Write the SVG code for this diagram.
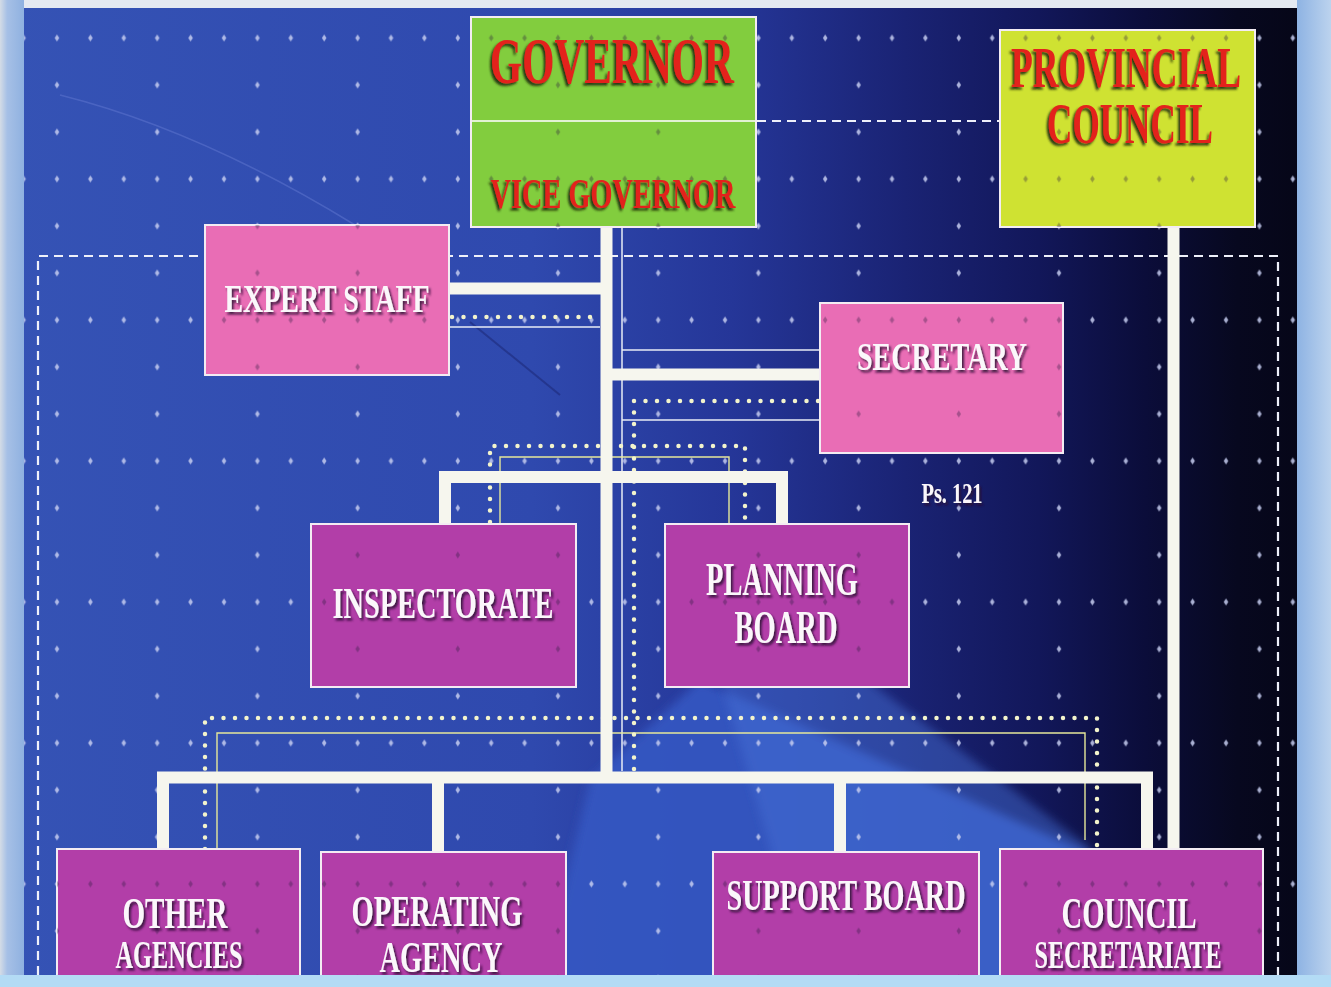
<svg xmlns="http://www.w3.org/2000/svg" xmlns:xlink="http://www.w3.org/1999/xlink" width="1331" height="987" viewBox="0 0 1331 987">
  <style>
    .box { stroke: #f3ecf3; stroke-width: 2; }
    .gov { fill: #82cd3e; }
    .pc { fill: #cfe232; }
    .pink { fill: #e96db5; }
    .mag { fill: #b23ea8; }
    .lbl { font-family: "Liberation Serif", "Times New Roman", serif; font-weight: bold; fill: #fbf7fb; text-anchor: middle; filter: url(#emboss); }
    .red { fill: #e3221b; filter: url(#redShadow); }
    .bar { fill: none; stroke: #f6f6ee; stroke-width: 12; stroke-linejoin: miter; }
    .thin { fill: none; stroke: #e9ecf6; stroke-width: 1.5; }
    .ythin { fill: none; stroke: #e6e89a; stroke-width: 1.4; }
    .dots { fill: none; stroke: #f3f4cc; stroke-width: 4.5; stroke-linecap: round; stroke-dasharray: 0 11.5; }
    .dash { fill: none; stroke: #eef0fa; stroke-width: 2.2; stroke-dasharray: 9 6; }
  </style>
  <defs>
    <linearGradient id="bgGrad" gradientUnits="userSpaceOnUse" x1="0" y1="0" x2="1331" y2="0">
      <stop offset="0" stop-color="#3553b5"/>
      <stop offset="0.40" stop-color="#2f49ae"/>
      <stop offset="0.55" stop-color="#253698"/>
      <stop offset="0.68" stop-color="#1a2374"/>
      <stop offset="0.78" stop-color="#12175a"/>
      <stop offset="0.86" stop-color="#0b0d3a"/>
      <stop offset="0.93" stop-color="#07081f"/>
      <stop offset="1" stop-color="#050514"/>
    </linearGradient>
    <linearGradient id="leftFrame" x1="0" y1="0" x2="1" y2="0">
      <stop offset="0" stop-color="#d4dce6"/>
      <stop offset="0.3" stop-color="#a6c0e6"/>
      <stop offset="1" stop-color="#8fb1e0"/>
    </linearGradient>
    <linearGradient id="rightFrame" x1="0" y1="0" x2="1" y2="0">
      <stop offset="0" stop-color="#8eb3e3"/>
      <stop offset="1" stop-color="#bcd3ee"/>
    </linearGradient>
    <filter id="soft" x="-10%" y="-10%" width="120%" height="120%">
      <feGaussianBlur stdDeviation="5"/>
    </filter>
    <filter id="emboss" x="-5%" y="-20%" width="110%" height="150%">
      <feDropShadow dx="2" dy="2.5" stdDeviation="0.8" flood-color="#2a0a30" flood-opacity="0.85"/>
    </filter>
    <filter id="redShadow" x="-5%" y="-20%" width="110%" height="150%">
      <feDropShadow dx="-2" dy="2.5" stdDeviation="0.8" flood-color="#1d2a0c" flood-opacity="0.9"/>
    </filter>
    <path id="dot" d="M0,-3.5 L2.3,0 L0,3.5 L-2.3,0 Z"/>
    <!-- alignment grid: dense rows every 141px, sparse rows in between -->
    <pattern id="grid" patternUnits="userSpaceOnUse" x="40.3" y="14.5" width="100.2" height="141">
      <g fill="#c6cdf0" fill-opacity="0.85">
        <use href="#dot" x="16.7" y="23.5"/>
        <use href="#dot" x="50.1" y="23.5"/>
        <use href="#dot" x="83.5" y="23.5"/>
        <use href="#dot" x="16.7" y="70.5"/>
        <use href="#dot" x="16.7" y="117.5"/>
      </g>
    </pattern>
    <pattern id="gridDark" patternUnits="userSpaceOnUse" x="40.3" y="14.5" width="100.2" height="141">
      <g fill="#2a1a40" fill-opacity="0.35">
        <use href="#dot" x="16.7" y="23.5"/>
        <use href="#dot" x="50.1" y="23.5"/>
        <use href="#dot" x="83.5" y="23.5"/>
        <use href="#dot" x="16.7" y="70.5"/>
        <use href="#dot" x="16.7" y="117.5"/>
      </g>
    </pattern>
  </defs>

  <!-- slide background -->
  <g id="background">
    <rect x="0" y="0" width="1331" height="987" fill="url(#bgGrad)"/>
    <polygon points="540,987 590,780 700,680 1100,858 1100,987" fill="#3456c2" fill-opacity="0.9" filter="url(#soft)"/>
    <polygon points="715,660 840,660 1089,847 1089,987 800,987 770,847" fill="#4470d8" fill-opacity="0.45" filter="url(#soft)"/>
    <path d="M60,95 Q200,130 355,225" fill="none" stroke="#5a72cc" stroke-opacity="0.6" stroke-width="1.5"/>
    <path d="M470,322 L560,395" fill="none" stroke="#1a2470" stroke-opacity="0.5" stroke-width="2"/>
    <rect x="24" y="8" width="1273" height="967" fill="url(#grid)"/>
  </g>

  <g id="connectors">
    <!-- selection outlines -->
    <path class="dash" d="M38,975 V256 H1278 V975"/>
    <path class="dash" d="M757,121 H1000" stroke-width="2.5" stroke-dasharray="10 7"/>
    <path class="thin" d="M622,227 V771"/>
    <path class="thin" d="M622,350 H820"/>
    <path class="thin" d="M622,420 H820"/>
    <path class="thin" d="M449,327 H600"/>
    <path class="ythin" d="M500,560 V457 H729 V524"/>
    <path class="ythin" d="M217,850 V733 H1085 V840"/>
    <path class="dots" d="M452,317 H598"/>
    <path class="dots" d="M818,401 H634 V775"/>
    <path class="dots" d="M490,522 V446 H745 V520"/>
    <path class="dots" d="M205,849 V718 H1097 V849"/>
    <!-- reporting lines -->
    <path class="bar" d="M606.5,226 V777" stroke-width="11"/>
    <path class="bar" d="M449,288.5 H606" stroke-width="13"/>
    <path class="bar" d="M606,374.5 H820" stroke-width="13"/>
    <path class="bar" d="M445,524 V477 H782 V524"/>
    <path class="bar" d="M163,849 V777.5 H1147 V849" stroke-width="13"/>
    <path class="bar" d="M438,777 V852" stroke-width="11"/>
    <path class="bar" d="M840,777 V852" stroke-width="11"/>
    <path class="bar" d="M1173.5,227 V849" stroke-width="11"/>
  </g>

  <g id="governor">
    <rect class="box gov" x="471" y="17" width="285" height="210"/>
    <rect x="471" y="17" width="285" height="210" fill="url(#gridDark)"/>
    <line x1="472" y1="121" x2="755" y2="121" stroke="#e2f2d2" stroke-width="2"/>
    <text class="lbl red" x="612" y="83" font-size="66" textLength="244" lengthAdjust="spacingAndGlyphs">GOVERNOR</text>
    <text class="lbl red" x="613" y="208" font-size="42" textLength="245" lengthAdjust="spacingAndGlyphs">VICE GOVERNOR</text>
  </g>

  <g id="provincial-council">
    <rect class="box pc" x="1000" y="30" width="255" height="197"/>
    <rect x="1000" y="30" width="255" height="197" fill="url(#gridDark)"/>
    <text class="lbl red" x="1126" y="87" font-size="56" textLength="230" lengthAdjust="spacingAndGlyphs">PROVINCIAL</text>
    <text class="lbl red" x="1130" y="143" font-size="56" textLength="166" lengthAdjust="spacingAndGlyphs">COUNCIL</text>
  </g>

  <g id="expert-staff">
    <rect class="box pink" x="205" y="225" width="244" height="150"/>
    <rect x="205" y="225" width="244" height="150" fill="url(#gridDark)"/>
    <text class="lbl" x="327" y="312" font-size="41" textLength="205" lengthAdjust="spacingAndGlyphs">EXPERT STAFF</text>
  </g>

  <g id="secretary">
    <rect class="box pink" x="820" y="303" width="243" height="150"/>
    <rect x="820" y="303" width="243" height="150" fill="url(#gridDark)"/>
    <text class="lbl" x="942" y="370" font-size="41" textLength="170" lengthAdjust="spacingAndGlyphs">SECRETARY</text>
  </g>

  <g id="note">
    <text class="lbl" x="952" y="503" font-size="30" textLength="61" lengthAdjust="spacingAndGlyphs">Ps. 121</text>
  </g>

  <g id="inspectorate">
    <rect class="box mag" x="311" y="524" width="265" height="163"/>
    <rect x="311" y="524" width="265" height="163" fill="url(#gridDark)"/>
    <text class="lbl" x="443" y="618" font-size="45" textLength="221" lengthAdjust="spacingAndGlyphs">INSPECTORATE</text>
  </g>

  <g id="planning-board">
    <rect class="box mag" x="665" y="524" width="244" height="163"/>
    <rect x="665" y="524" width="244" height="163" fill="url(#gridDark)"/>
    <text class="lbl" x="782" y="595" font-size="46" textLength="152" lengthAdjust="spacingAndGlyphs">PLANNING</text>
    <text class="lbl" x="786" y="643" font-size="46" textLength="103" lengthAdjust="spacingAndGlyphs">BOARD</text>
  </g>

  <g id="other-agencies">
    <rect class="box mag" x="57" y="849" width="243" height="140"/>
    <rect x="57" y="849" width="243" height="140" fill="url(#gridDark)"/>
    <text class="lbl" x="175" y="928" font-size="44" textLength="105" lengthAdjust="spacingAndGlyphs">OTHER</text>
    <text class="lbl" x="179" y="968" font-size="40" textLength="127" lengthAdjust="spacingAndGlyphs">AGENCIES</text>
  </g>

  <g id="operating-agency">
    <rect class="box mag" x="321" y="852" width="245" height="140"/>
    <rect x="321" y="852" width="245" height="140" fill="url(#gridDark)"/>
    <text class="lbl" x="437" y="926" font-size="44" textLength="171" lengthAdjust="spacingAndGlyphs">OPERATING</text>
    <text class="lbl" x="441" y="972" font-size="44" textLength="123" lengthAdjust="spacingAndGlyphs">AGENCY</text>
  </g>

  <g id="support-board">
    <rect class="box mag" x="713" y="852" width="266" height="140"/>
    <rect x="713" y="852" width="266" height="140" fill="url(#gridDark)"/>
    <text class="lbl" x="846" y="910" font-size="45" textLength="239" lengthAdjust="spacingAndGlyphs">SUPPORT BOARD</text>
  </g>

  <g id="council-secretariate">
    <rect class="box mag" x="1000" y="849" width="263" height="140"/>
    <rect x="1000" y="849" width="263" height="140" fill="url(#gridDark)"/>
    <text class="lbl" x="1129" y="928" font-size="44" textLength="135" lengthAdjust="spacingAndGlyphs">COUNCIL</text>
    <text class="lbl" x="1128" y="968" font-size="40" textLength="187" lengthAdjust="spacingAndGlyphs">SECRETARIATE</text>
  </g>

  <!-- window frame around the slide -->
  <g id="frame">
    <rect x="0" y="0" width="1331" height="8" fill="#e4e9f1"/>
    <rect x="0" y="0" width="24" height="987" fill="url(#leftFrame)"/>
    <rect x="1297" y="0" width="34" height="987" fill="url(#rightFrame)"/>
    <rect x="0" y="975" width="1331" height="12" fill="#b3dbf5"/>
  </g>
</svg>
